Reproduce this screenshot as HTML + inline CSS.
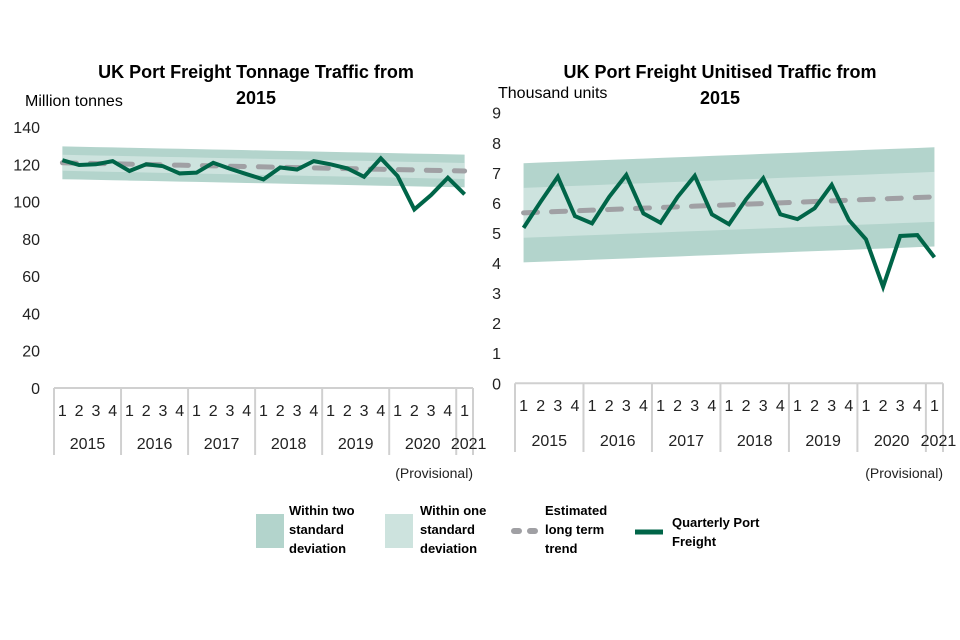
<!DOCTYPE html>
<html><head><meta charset="utf-8"><style>
body{margin:0;background:#fff;font-family:"Liberation Sans",Arial,sans-serif}
svg{display:block}
</style></head><body>
<svg id="s" width="960" height="640" viewBox="0 0 960 640" xmlns="http://www.w3.org/2000/svg">
<g font-family="Liberation Sans, Arial, sans-serif">
<text x="256" y="78" font-size="18" font-weight="bold" text-anchor="middle">UK Port Freight Tonnage Traffic from</text>
<text x="256" y="104" font-size="18" font-weight="bold" text-anchor="middle">2015</text>
<text x="25" y="106" font-size="16">Million tonnes</text>
<text x="720" y="78" font-size="18" font-weight="bold" text-anchor="middle">UK Port Freight Unitised Traffic from</text>
<text x="720" y="104" font-size="18" font-weight="bold" text-anchor="middle">2015</text>
<text x="498" y="98" font-size="16">Thousand units</text>
</g>
<g id="left"></g>
<g id="right"></g>
<g font-family="Liberation Sans, Arial, sans-serif" font-size="13" font-weight="bold">
<g>
<rect x="256" y="514" width="28" height="34" fill="#b3d4cc"/>
<text x="289" y="515">Within two</text><text x="289" y="534">standard</text><text x="289" y="553">deviation</text></g>
<g>
<rect x="385" y="514" width="28" height="34" fill="#cde3de"/>
<text x="420" y="515">Within one</text><text x="420" y="534">standard</text><text x="420" y="553">deviation</text></g>
<g>
<line x1="514" y1="531" x2="540" y2="531" stroke="#a0a0a4" stroke-width="6" stroke-linecap="round" stroke-dasharray="5,11"/>
<text x="545" y="515">Estimated</text><text x="545" y="534">long term</text><text x="545" y="553">trend</text></g>
<g>
<line x1="635" y1="532" x2="663" y2="532" stroke="#006548" stroke-width="5"/>
<text x="672" y="527">Quarterly Port</text><text x="672" y="546">Freight</text></g>
</g>
</svg>
<script>
const quarters=["1","2","3","4","1","2","3","4","1","2","3","4","1","2","3","4","1","2","3","4","1","2","3","4","1"];
const years=["2015","2016","2017","2018","2019","2020","2021"];
const leftTicks=[0,20,40,60,80,100,120,140];
const leftFreight=[122.2,119.6,120,121.7,116.4,120,119,115.1,115.5,120.8,117.6,114.7,111.9,118.3,117.2,121.7,120,117.8,113.3,123.2,113.7,95.8,103.5,112.8,103.9];
const leftTrendStart=120.8, leftTrendEnd=116.4;
const leftSd=[4.3,8.8];
const rightTicks=[0,1,2,3,4,5,6,7,8,9];
const rightFreight=[5.17,6.04,6.87,5.56,5.32,6.2,6.93,5.65,5.34,6.2,6.9,5.62,5.29,6.12,6.82,5.62,5.46,5.82,6.6,5.43,4.79,3.21,4.9,4.93,4.19];
const rightTrendStart=5.67, rightTrendEnd=6.2;
const rightSd=[0.83,1.65];
const NS="http://www.w3.org/2000/svg";
function mk(p,t,a){const e=document.createElementNS(NS,t);for(const k in a)e.setAttribute(k,a[k]);p.appendChild(e);return e;}
function draw(g,cfg){
  const n=quarters.length,cw=(cfg.x1-cfg.x0)/n;
  const X=i=>cfg.x0+cw*(i+0.5);
  const Y=v=>cfg.y0-(v-cfg.min)/(cfg.max-cfg.min)*(cfg.y0-cfg.yTop);
  const trend=i=>cfg.ts+(cfg.te-cfg.ts)*i/(n-1);
  const band=(lo,hi,fill,name)=>{let pts=[];for(let i=0;i<n;i++)pts.push(X(i)+","+Y(trend(i)+hi));for(let i=n-1;i>=0;i--)pts.push(X(i)+","+Y(trend(i)+lo));const p=mk(g,"polygon",{points:pts.join(" "),fill:fill});
    
    };
  band(-cfg.sd[1],cfg.sd[1],"#b3d4cc","band-two-sd");
  band(-cfg.sd[0],cfg.sd[0],"#cde3de","band-one-sd");
  cfg.ticks.forEach(t=>{const e=mk(g,"text",{x:cfg.x0-14,y:Y(t)+6,"font-size":16,"text-anchor":"end",fill:"#222","font-family":"Liberation Sans, Arial, sans-serif"});e.textContent=t;
    
    });
  const tr=mk(g,"polyline",{points:quarters.map((q,i)=>X(i)+","+Y(trend(i))).join(" "),fill:"none",stroke:"#a0a0a4","stroke-width":5,"stroke-linecap":"round","stroke-dasharray":"14,14"});
  
  
  const ln=mk(g,"polyline",{points:cfg.data.map((v,i)=>X(i)+","+Y(v)).join(" "),fill:"none",stroke:"#006548","stroke-width":4,"stroke-linejoin":"miter"});
  
  
  const ax=mk(g,"line",{x1:cfg.x0,y1:cfg.y0,x2:cfg.x1,y2:cfg.y0,stroke:"#d0d0d0","stroke-width":2});
  
  
  for(let k=0;k<=n;k++){if(k%4&&k!==n)continue;const x=cfg.x0+cw*k;const s=mk(g,"line",{x1:x,y1:cfg.y0,x2:x,y2:cfg.sepB,stroke:"#d0d0d0","stroke-width":2});
    
    }
  quarters.forEach((q,i)=>{const e=mk(g,"text",{x:X(i),y:cfg.qY,"font-size":16,"text-anchor":"middle",fill:"#222","font-family":"Liberation Sans, Arial, sans-serif"});e.textContent=q;
    
    });
  years.forEach((yr,j)=>{const xc=j<6?cfg.x0+cw*(4*j+2):X(24)+4;const e=mk(g,"text",{x:xc,y:cfg.yY,"font-size":16,"text-anchor":"middle",fill:"#222","font-family":"Liberation Sans, Arial, sans-serif"});e.textContent=yr;
    
    });
  const pv=mk(g,"text",{x:cfg.x1,y:cfg.pY,"font-size":14,"text-anchor":"end",fill:"#222","font-family":"Liberation Sans, Arial, sans-serif"});pv.textContent="(Provisional)";
  
  
}
draw(document.getElementById("left"),{x0:54,x1:473,y0:388,yTop:127,min:0,max:140,ticks:leftTicks,data:leftFreight,ts:leftTrendStart,te:leftTrendEnd,sd:leftSd,sepB:455,qY:416,yY:449,pY:478});
draw(document.getElementById("right"),{x0:515,x1:943,y0:383.3,yTop:112.7,min:0,max:9,ticks:rightTicks,data:rightFreight,ts:rightTrendStart,te:rightTrendEnd,sd:rightSd,sepB:452,qY:411,yY:446,pY:478});
</script>
</body></html>
